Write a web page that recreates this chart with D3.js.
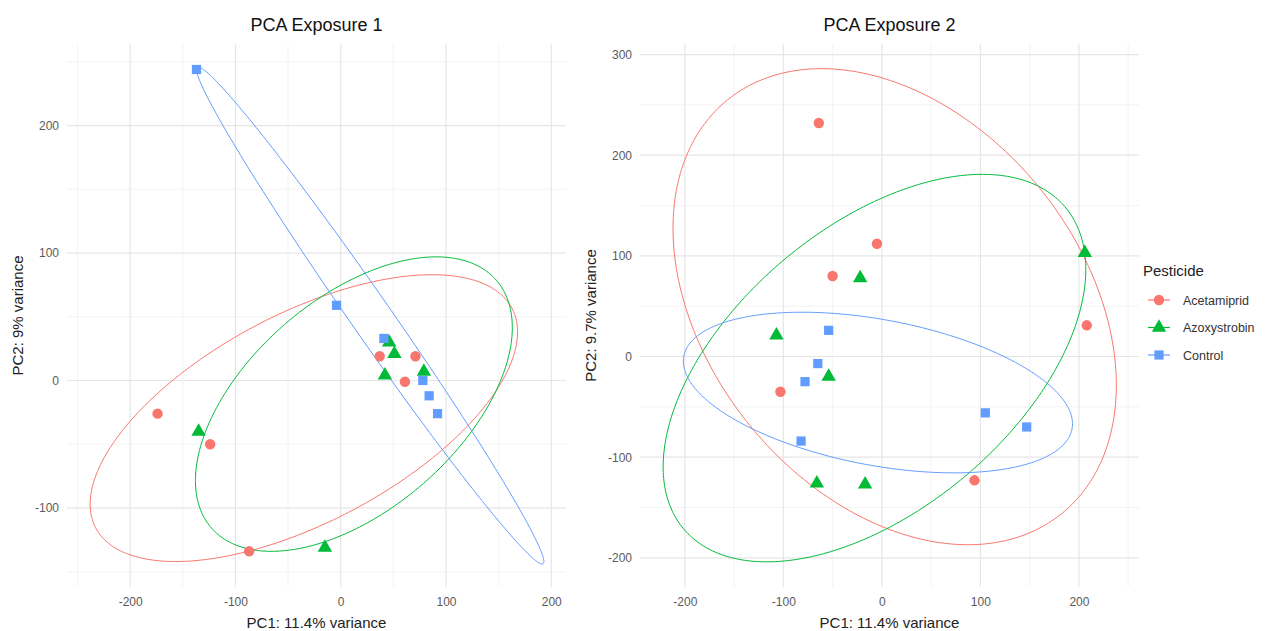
<!DOCTYPE html>
<html>
<head>
<meta charset="utf-8">
<script src="https://cdn.jsdelivr.net/npm/d3@7"></script>
<style>
  body { margin: 0; background: #fff; }
  svg { font-family: "Liberation Sans", Arial, sans-serif; }
</style>
</head>
<body>
<svg id="chart" width="1274" height="631"></svg>
<script>
const groups = ['Acetamiprid', 'Azoxystrobin', 'Control'];
const colors = ['#F8766D', '#00BA38', '#619CFF'];
const shapes = [d3.symbolCircle, d3.symbolTriangle, d3.symbolSquare];

// Exposure 1 scores (PC1, PC2)
const exp1Acetamiprid = [[-174, -26], [-124, -50], [-87, -134], [37, 19], [71, 19], [61, -1]];
const exp1Azoxystrobin = [[-135, -40], [-15, -131], [46, 30], [51, 21], [42, 4], [79, 7]];
const exp1Control = [[-137, 244], [-4, 59], [41, 33], [78, 0], [84, -12], [92, -26]];
// ellipse: centre x, centre y, half width, half height, correlation
const exp1Ellipses = [[-35, -29.5, 203, 112.5, 0.6], [12.5, -18.5, 150.5, 115.5, 0.52], [28, 51, 165, 195, -0.99]];

// Exposure 2 scores
const exp2Acetamiprid = [[-64, 232], [-5, 112], [-50, 80], [-103, -35], [94, -123], [208, 31]];
const exp2Azoxystrobin = [[-22, 78], [206, 103], [-107, 21], [-54, -20], [-66, -126], [-17, -127]];
const exp2Control = [[-54, 26], [-65, -7], [-78, -25], [-82, -84], [105, -56], [147, -70]];
const exp2Ellipses = [[13, 49.5, 225, 236.5, -0.33], [-7.5, -11.5, 214.5, 192.5, 0.51], [-4, -35.8, 197.5, 79.8, -0.39]];

const xTicks = [-200, -100, 0, 100, 200];
const yTicks1 = [-100, 0, 100, 200];
const yTicks2 = [-200, -100, 0, 100, 200, 300];

const panels = [
  { title: 'PCA Exposure 1', xLab: 'PC1: 11.4% variance', yLab: 'PC2: 9% variance',
    data: [exp1Acetamiprid, exp1Azoxystrobin, exp1Control], ellipses: exp1Ellipses,
    xDom: [-260, 214], yDom: [-162, 264], yTicks: yTicks1, left: 67, right: 566 },
  { title: 'PCA Exposure 2', xLab: 'PC1: 11.4% variance', yLab: 'PC2: 9.7% variance',
    data: [exp2Acetamiprid, exp2Azoxystrobin, exp2Control], ellipses: exp2Ellipses,
    xDom: [-245.5, 261], yDom: [-229, 310.5], yTicks: yTicks2, left: 640, right: 1139 }
];

const plotTop = 44, plotBottom = 587;
const svg = d3.select('#chart');

function minorOf(ticks, dom) {
  const step = ticks[1] - ticks[0];
  const out = [];
  for (let v = ticks[0] - step / 2; v <= ticks[ticks.length - 1] + step / 2; v += step) {
    if (v >= dom[0] && v <= dom[1]) out.push(v);
  }
  return out;
}

function ellipsePoints(e) {
  const [cx, cy, rx, ry, rho] = e;
  const phi = Math.acos(rho);
  return d3.range(0, 361).map(d => {
    const t = d * Math.PI / 180;
    return [cx + rx * Math.cos(t), cy + ry * Math.cos(t - phi)];
  });
}

panels.forEach(p => {
  const x = d3.scaleLinear().domain(p.xDom).range([p.left, p.right]);
  const y = d3.scaleLinear().domain(p.yDom).range([plotBottom, plotTop]);
  const g = svg.append('g');

  // grid
  const grid = g.append('g');
  grid.selectAll('line.minx').data(minorOf(xTicks, p.xDom)).join('line')
    .attr('x1', d => x(d)).attr('x2', d => x(d)).attr('y1', plotTop).attr('y2', plotBottom)
    .attr('stroke', '#f0f0f0').attr('stroke-width', 0.8);
  grid.selectAll('line.miny').data(minorOf(p.yTicks, p.yDom)).join('line')
    .attr('y1', d => y(d)).attr('y2', d => y(d)).attr('x1', p.left).attr('x2', p.right)
    .attr('stroke', '#f0f0f0').attr('stroke-width', 0.8);
  grid.selectAll('line.majx').data(xTicks).join('line')
    .attr('x1', d => x(d)).attr('x2', d => x(d)).attr('y1', plotTop).attr('y2', plotBottom)
    .attr('stroke', '#e6e6e6').attr('stroke-width', 1.2);
  grid.selectAll('line.majy').data(p.yTicks).join('line')
    .attr('y1', d => y(d)).attr('y2', d => y(d)).attr('x1', p.left).attr('x2', p.right)
    .attr('stroke', '#e6e6e6').attr('stroke-width', 1.2);

  // axes
  const fmt = d => String(d);
  const xAxis = g.append('g').attr('transform', `translate(0,${plotBottom + 6})`)
    .call(d3.axisBottom(x).tickValues(xTicks).tickFormat(fmt).tickSize(0).tickPadding(4));
  const yAxis = g.append('g').attr('transform', `translate(${p.left - 6},0)`)
    .call(d3.axisLeft(y).tickValues(p.yTicks).tickFormat(fmt).tickSize(0).tickPadding(2));
  [xAxis, yAxis].forEach(a => {
    a.select('.domain').remove();
    a.selectAll('text').attr('fill', '#5a5a5a').style('font-size', '12px')
      .style('font-family', '"Liberation Sans", Arial, sans-serif');
  });

  // titles
  g.append('text').attr('x', (p.left + p.right) / 2).attr('y', 31)
    .attr('text-anchor', 'middle').style('font-size', '18px').attr('fill', '#111').text(p.title);
  g.append('text').attr('x', (p.left + p.right) / 2).attr('y', 628)
    .attr('text-anchor', 'middle').style('font-size', '15px').attr('fill', '#222').text(p.xLab);
  g.append('text').attr('transform', `translate(${p.left - 44},${(plotTop + plotBottom) / 2}) rotate(-90)`)
    .attr('text-anchor', 'middle').style('font-size', '15px').attr('fill', '#222').text(p.yLab);

  // ellipses
  const line = d3.line().x(d => x(d[0])).y(d => y(d[1]));
  g.selectAll('path.ell').data(p.ellipses).join('path')
    .attr('d', d => line(ellipsePoints(d)))
    .attr('fill', 'none').attr('stroke', (d, i) => colors[i]).attr('stroke-width', 1);

  // points
  p.data.forEach((pts, i) => {
    g.append('g').selectAll('path').data(pts).join('path')
      .attr('transform', d => `translate(${x(d[0])},${y(d[1])})`)
      .attr('d', d3.symbol().type(shapes[i]).size(i === 1 ? 90 : 85))
      .attr('fill', colors[i]);
  });
});

// legend
const legend = svg.append('g').attr('transform', 'translate(1143,0)');
legend.append('text').attr('x', 0).attr('y', 276).style('font-size', '15px').attr('fill', '#222').text('Pesticide');
groups.forEach((grp, i) => {
  const cy = 300 + i * 27.5;
  legend.append('line').attr('x1', 5).attr('x2', 27).attr('y1', cy).attr('y2', cy)
    .attr('stroke', colors[i]).attr('stroke-width', 1.2);
  legend.append('path').attr('transform', `translate(16,${cy})`)
    .attr('d', d3.symbol().type(shapes[i]).size(i === 1 ? 90 : 85)).attr('fill', colors[i]);
  legend.append('text').attr('x', 40).attr('y', cy + 4.5).style('font-size', '12.5px')
    .attr('fill', '#333').text(grp);
});
</script>
</body>
</html>
